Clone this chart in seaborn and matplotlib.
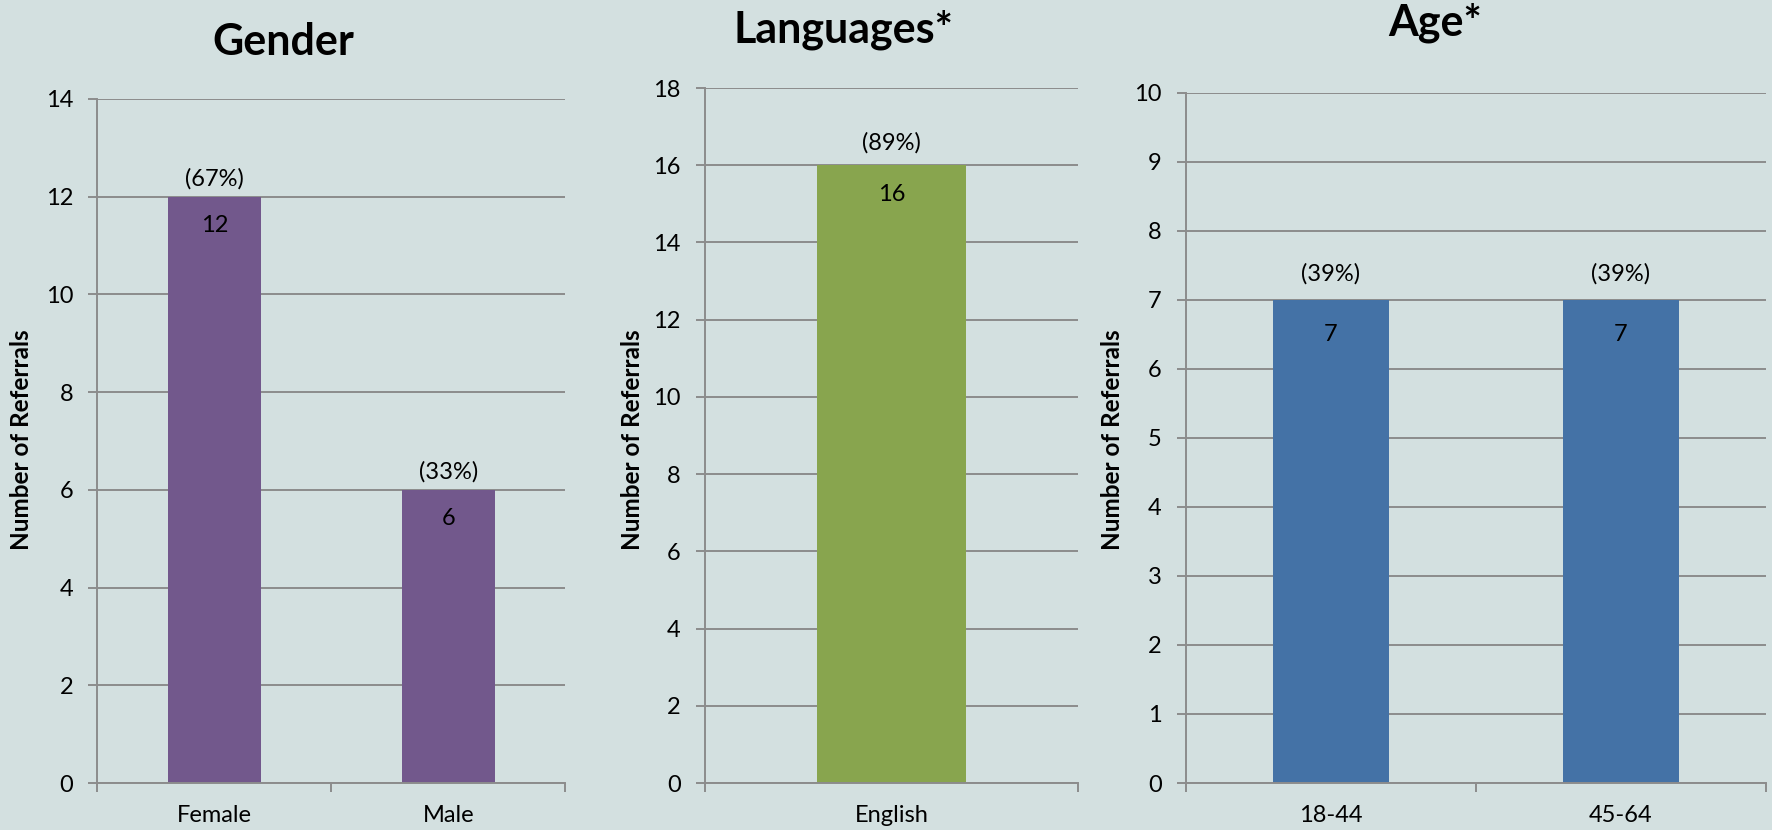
import numpy as np
import seaborn as sns
import matplotlib.pyplot as plt

gender_cats = ["Female", "Male"]
gender_counts = [12, 6]
gender_pcts = ["(67%)", "(33%)"]

lang_cats = ["English"]
lang_counts = [16]
lang_pcts = ["(89%)"]

age_cats = ["18-44", "45-64"]
age_counts = [7, 7]
age_pcts = ["(39%)", "(39%)"]

bg = "#D3E0E0"
grid_col = "#8C8C8C"

sns.set_theme(style="white")
plt.rcParams["font.family"] = ["Lato", "DejaVu Sans"]
plt.rcParams["text.color"] = "black"
plt.rcParams["xtick.color"] = "black"
plt.rcParams["ytick.color"] = "black"

fig = plt.figure(figsize=(17.72, 8.30), dpi=100, facecolor=bg)

panels = [
    # cats, counts, pcts, color, ymax, step, axes rect, title, title xy, ylabel x, label offsets
    (gender_cats, gender_counts, gender_pcts, "#72588C", 14, 2,
     [0.0550, 0.0566, 0.2641, 0.8243], "Gender", (0.160, 0.934), 0.012, (13, -21)),
    (lang_cats, lang_counts, lang_pcts, "#88A54E", 18, 2,
     [0.3979, 0.0566, 0.2105, 0.8373], "Languages*", (0.476, 0.949), 0.357, (16, -21)),
    (age_cats, age_counts, age_pcts, "#4472A6", 10, 1,
     [0.6693, 0.0566, 0.3273, 0.8316], "Age*", (0.810, 0.957), 0.628, (19, -25)),
]

for cats, counts, pcts, color, ymax, step, rect, title, txy, ylx, offs in panels:
    ax = fig.add_axes(rect)
    ax.set_facecolor(bg)
    sns.barplot(x=cats, y=counts, color=color, saturation=1, width=0.4,
                linewidth=0, ax=ax)
    n = len(cats)
    ax.set_xlim(-0.5, n - 0.5)
    ax.set_ylim(0, ymax)
    ax.set_yticks(np.arange(0, ymax + step, step))
    ax.set_xticks(np.arange(-0.5, n, 1), minor=True)
    ax.yaxis.grid(True, color=grid_col, lw=1.4)
    ax.set_axisbelow(True)
    for s in ["top", "right"]:
        ax.spines[s].set_visible(False)
    for s in ["left", "bottom"]:
        ax.spines[s].set_color(grid_col)
        ax.spines[s].set_linewidth(1.4)
    ax.tick_params(axis="y", length=6.5, width=1.4, color=grid_col, pad=11,
                   labelsize=17, labelcolor="black", left=True)
    ax.tick_params(axis="x", which="major", length=0, pad=16, labelsize=17,
                   labelcolor="black")
    ax.tick_params(axis="x", which="minor", length=6.5, width=1.4,
                   color=grid_col, bottom=True)
    ax.set_xlabel("")
    ax.set_ylabel("")
    for i, (v, p) in enumerate(zip(counts, pcts)):
        ax.annotate(p, (i, v), xytext=(0, offs[0]), textcoords="offset points",
                    ha="center", va="center", fontsize=17, color="black")
        ax.annotate(str(v), (i, v), xytext=(0, offs[1]), textcoords="offset points",
                    ha="center", va="center", fontsize=17, color="black")
    fig.text(txy[0], txy[1], title, ha="center", va="baseline",
             fontsize=31, fontweight="bold", color="black")
    fig.text(ylx, 0.47, "Number of Referrals", rotation=90, ha="center",
             va="center", fontsize=17.5, fontweight="bold", color="black")

fig.savefig("out.png", dpi=100, facecolor=bg)
